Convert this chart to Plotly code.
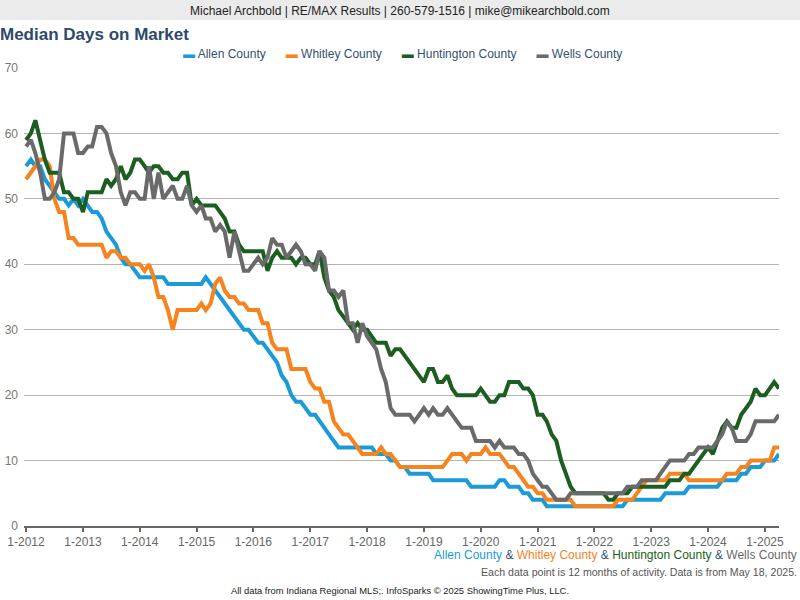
import pandas as pd
import plotly.graph_objects as go

# monthly median days on market, 1-2012 .. 4-2025 (12-month rolling)
months = pd.date_range("2012-01-01", "2025-04-01", freq="MS")

allen = [
    55, 56, 55, 55, 53, 52, 51, 50, 50, 49, 50, 49,
    50, 49, 48, 48, 47, 45, 44, 43, 41, 40, 40, 39,
    38, 38, 38, 38, 38, 38, 37, 37, 37, 37, 37, 37,
    37, 37, 38, 37, 36, 35, 34, 33, 32, 31, 30, 30,
    29, 28, 28, 27, 26, 25, 23, 22, 20, 19, 19, 18,
    17, 17, 16, 15, 14, 13, 12, 12, 12, 12, 12, 12,
    12, 12, 11, 11, 11, 10, 10, 9, 9, 8, 8, 8,
    8, 8, 7, 7, 7, 7, 7, 7, 7, 7, 6, 6,
    6, 6, 6, 6, 7, 7, 6, 6, 6, 5, 5, 4,
    4, 4, 3, 3, 3, 3, 3, 3, 3, 3, 3, 3,
    3, 3, 3, 3, 3, 3, 3, 4, 4, 4, 4, 4,
    4, 4, 4, 5, 5, 5, 5, 5, 6, 6, 6, 6,
    6, 6, 6, 7, 7, 7, 7, 8, 8, 9, 9, 9,
    10, 10, 10, 11,
]
whitley = [
    53, 54, 55, 56, 56, 55, 50, 48, 48, 44, 44, 43,
    43, 43, 43, 43, 43, 41, 42, 42, 41, 41, 40, 40,
    40, 39, 40, 38, 35, 35, 33, 30, 33, 33, 33, 33,
    33, 34, 33, 34, 37, 38, 36, 35, 35, 34, 34, 33,
    33, 33, 31, 31, 28, 27, 27, 27, 24, 24, 24, 24,
    22, 21, 21, 19, 19, 16, 15, 14, 14, 13, 12, 11,
    11, 11, 11, 12, 11, 11, 10, 9, 9, 9, 9, 9,
    9, 9, 9, 9, 9, 10, 11, 11, 11, 10, 11, 11,
    11, 12, 11, 11, 11, 10, 9, 9, 8, 7, 6, 6,
    5, 5, 4, 4, 4, 4, 4, 4, 3, 3, 3, 3,
    3, 3, 3, 3, 3, 4, 4, 4, 4, 5, 6, 7,
    7, 7, 7, 7, 8, 8, 8, 8, 7, 7, 7, 7,
    7, 7, 7, 7, 8, 8, 8, 9, 9, 10, 10, 10,
    10, 10, 12, 12,
]
huntington = [
    59, 60, 62, 59, 56, 54, 54, 54, 51, 51, 50, 50,
    48, 51, 51, 51, 51, 53, 52, 53, 55, 53, 54, 56,
    56, 55, 54, 55, 55, 54, 54, 53, 53, 54, 54, 49,
    50, 49, 49, 49, 49, 48, 47, 45, 45, 43, 42, 42,
    42, 42, 42, 39, 41, 42, 41, 41, 41, 40, 41, 41,
    40, 40, 42, 38, 36, 35, 33, 32, 31, 30, 31, 30,
    30, 29, 28, 28, 28, 26, 27, 27, 26, 25, 24, 23,
    22, 24, 24, 22, 22, 23, 21, 20, 20, 20, 20, 20,
    21, 20, 19, 19, 20, 20, 22, 22, 22, 21, 21, 20,
    17, 17, 16, 14, 13, 10, 8, 6, 5, 5, 5, 5,
    5, 5, 5, 4, 4, 5, 5, 5, 6, 6, 6, 6,
    6, 6, 6, 6, 7, 7, 7, 8, 8, 9, 10, 11,
    12, 11, 13, 15, 16, 15, 15, 17, 18, 19, 21, 20,
    20, 21, 22, 21,
]
wells = [
    58, 59, 57, 54, 50, 50, 51, 53, 60, 60, 60, 57,
    57, 58, 58, 61, 61, 60, 57, 55, 51, 49, 51, 51,
    50, 50, 55, 50, 54, 50, 51, 52, 50, 50, 52, 49,
    48, 49, 47, 47, 45, 46, 45, 41, 45, 42, 39, 39,
    40, 41, 40, 41, 44, 43, 43, 41, 42, 43, 42, 40,
    40, 39, 42, 41, 36, 36, 35, 36, 31, 31, 28, 31,
    29, 28, 27, 24, 22, 18, 17, 17, 17, 17, 16, 17,
    18, 17, 18, 17, 17, 18, 17, 16, 15, 15, 15, 13,
    13, 13, 13, 12, 13, 12, 12, 12, 11, 11, 10, 8,
    7, 6, 6, 5, 4, 4, 4, 5, 5, 5, 5, 5,
    5, 5, 5, 5, 5, 5, 5, 6, 6, 6, 7, 7,
    7, 7, 8, 9, 10, 10, 10, 10, 11, 11, 12, 12,
    12, 12, 13, 14, 16, 15, 13, 13, 13, 14, 16, 16,
    16, 16, 16, 17,
]

names = ["Allen County", "Whitley County", "Huntington County", "Wells County"]
colors = ["#1a9bd7", "#f7831e", "#1c5e20", "#6a6a6a"]
series = [allen, whitley, huntington, wells]

FONT = "Liberation Sans, Arial, sans-serif"
TXT = "#33506f"

# margins in px, used to place things outside the plot area
ml, mr, mt, mb = 24, 21, 68, 74
pw, ph = 800 - ml - mr, 600 - mt - mb


def px_x(x):
    return (x - ml) / pw


def px_y(y):
    return (600 - mb - y) / ph


fig = go.Figure()
for name, col, vals in zip(names, colors, series):
    fig.add_trace(go.Scatter(x=months, y=vals, name=name, mode="lines",
                             line=dict(color=col, width=4)))

# grey header band
fig.add_shape(type="rect", xref="paper", yref="paper",
              x0=px_x(-5), x1=px_x(805), y0=px_y(20), y1=px_y(-5),
              fillcolor="#ebebeb", line_width=0, layer="below")

gap = "\u00a0" * 6
legend_txt = gap.join(
    '<span style="color:%s">▬</span> %s' % (c, n) for n, c in zip(names, colors))
bottom_txt = ' <span style="color:%s">&</span> ' % TXT
bottom_txt = bottom_txt.join(
    '<span style="color:%s">%s</span>' % (c, n) for n, c in zip(names, colors))

notes = [
    dict(text="Michael Archbold | RE/MAX Results | 260-579-1516 | mike@mikearchbold.com",
         x=px_x(400), y=px_y(11), xanchor="center", size=12, color="#222222"),
    dict(text=legend_txt, x=px_x(402), y=px_y(54), xanchor="center", size=12, color=TXT),
    dict(text=bottom_txt, x=px_x(799), y=px_y(555), xanchor="right", size=12, color=TXT),
    dict(text="Each data point is 12 months of activity. Data is from May 18, 2025.",
         x=px_x(799), y=px_y(572), xanchor="right", size=10.6, color="#555555"),
    dict(text="All data from Indiana Regional MLS;. InfoSparks © 2025 ShowingTime Plus, LLC.",
         x=px_x(400), y=px_y(590), xanchor="center", size=9.4, color="#222222"),
]
for n in notes:
    fig.add_annotation(text=n["text"], xref="paper", yref="paper", x=n["x"], y=n["y"],
                       xanchor=n["xanchor"], yanchor="middle", showarrow=False,
                       font=dict(family=FONT, size=n["size"], color=n["color"]))

fig.update_layout(
    width=800, height=600,
    margin=dict(l=ml, r=mr, t=mt, b=mb, autoexpand=False),
    paper_bgcolor="white", plot_bgcolor="white",
    showlegend=False,
    font=dict(family=FONT, size=12, color="#666666"),
    title=dict(text="<b>Median Days on Market</b>", xref="container", x=0.0,
               xanchor="left", y=1 - 34 / 600, yanchor="middle",
               font=dict(family=FONT, size=17, color="#2d4a6c")),
)
fig.update_xaxes(
    range=["2011-12-19", months[-1]], automargin=False,
    tickformat="%-m-%Y", dtick="M12", tick0="2012-01-01",
    ticks="outside", ticklen=4, tickcolor="#666666", tickwidth=2,
    showgrid=False, showline=True, linecolor="#666666", linewidth=2,
    tickfont=dict(size=12, color="#666666"),
)
fig.update_yaxes(
    range=[0, 70], dtick=10, showgrid=True, gridcolor="#b4b4b4", gridwidth=1,
    zeroline=False, ticks="", ticklabelstandoff=5, automargin=False,
    tickfont=dict(size=12, color="#777777"),
)

# page has a default 8px body margin; drop it so the chart fills the window
fig.write_html("out.html", config={"displayModeBar": False},
               post_script="document.body.style.margin='0';")
